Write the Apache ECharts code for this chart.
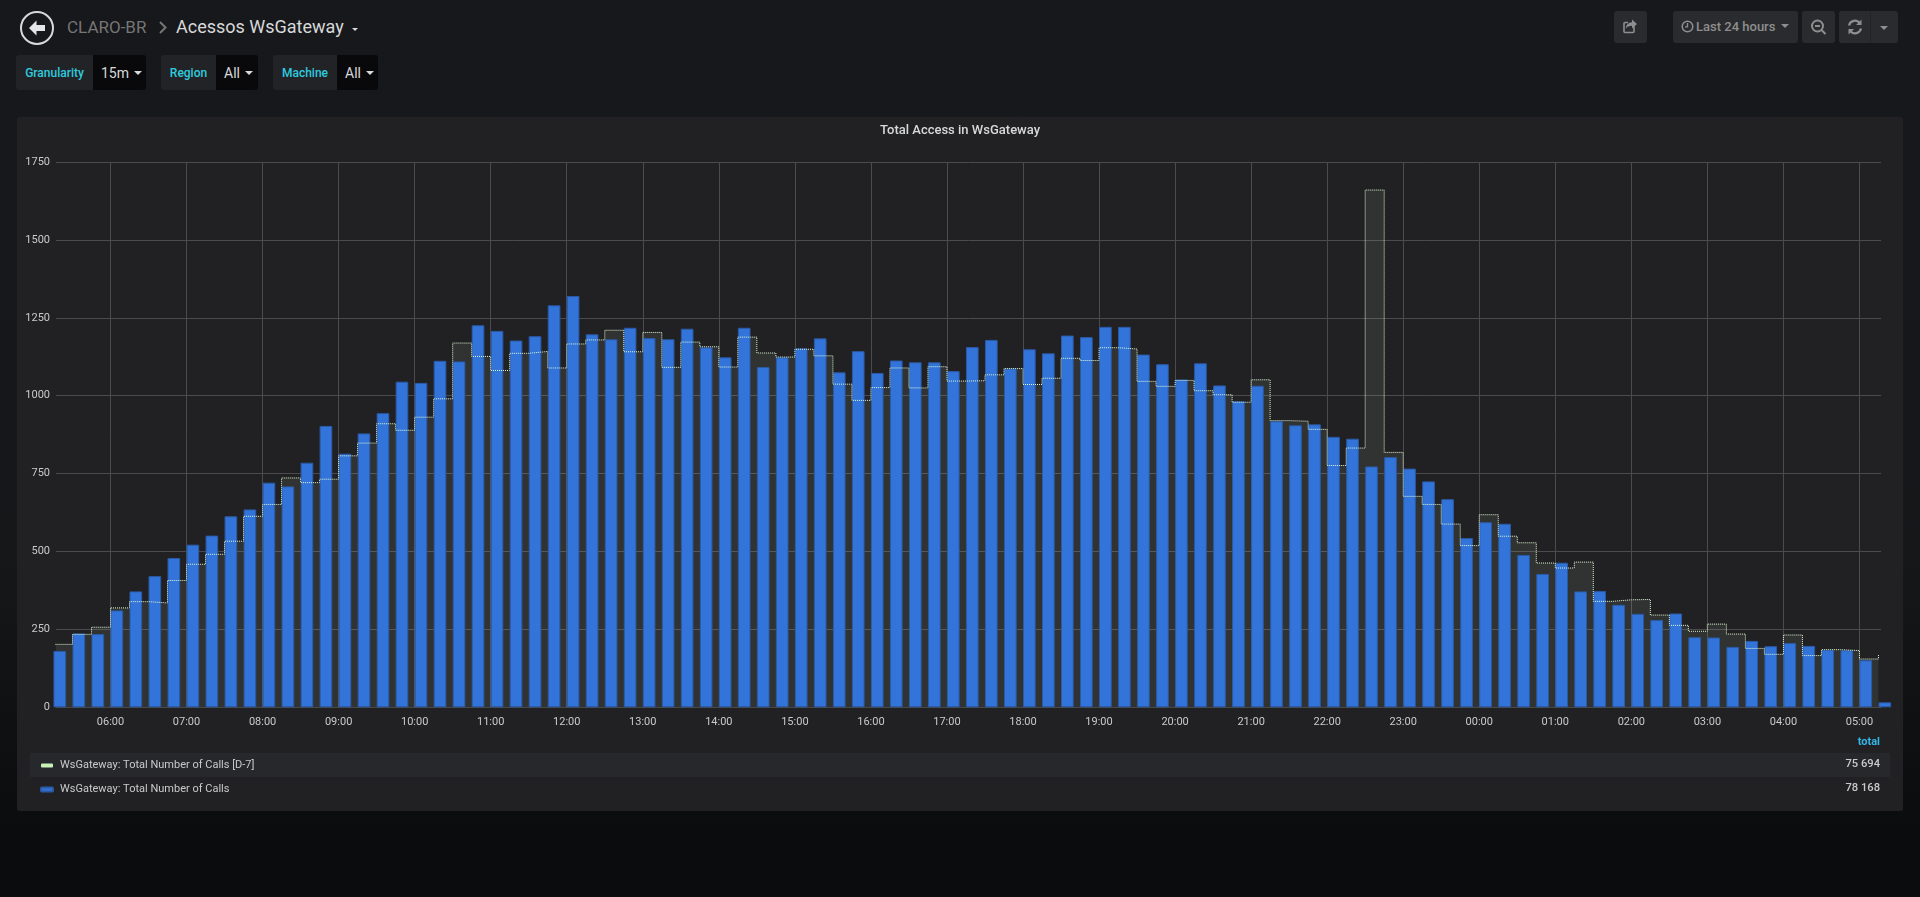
<!DOCTYPE html>
<html><head><meta charset="utf-8"><title>Acessos WsGateway</title>
<style>
html,body{margin:0;padding:0;width:1920px;height:897px;overflow:hidden;background:linear-gradient(#17181b 0,#161719 560px,#0b0c0e 830px);font-family:Roboto,sans-serif;color:#d8d9da}
.a{position:absolute;white-space:nowrap}
.lbl{background:#212327;color:#2fcbdf;font-size:12px;font-weight:500;line-height:36px;text-align:center;top:55px;height:35px;border-radius:3px 0 0 3px}
.val{background:#09090b;color:#d8d9da;font-size:14px;line-height:36px;top:55px;height:35px;border-radius:0 3px 3px 0;padding-left:8px;box-sizing:border-box}
.car{display:inline-block;width:0;height:0;border-left:4px solid transparent;border-right:4px solid transparent;border-top:4px solid #d8d9da;vertical-align:middle;margin-left:5px;margin-top:-2px}
.btn{background:#2a2b2e;top:11px;height:32px;border-radius:3px;color:#8e8e8e}
#panel{left:17px;top:117px;width:1886px;height:694px;background:#212124;border-radius:2px}
#row1{left:30px;top:753px;width:1860px;height:24px;background:#27282b}
#chart{position:absolute;left:0;top:0;width:1920px;height:897px}
</style></head><body>
<svg class="a" style="left:19px;top:10px" width="36" height="36" viewBox="0 0 36 36"><circle cx="18" cy="18" r="16" fill="none" stroke="#d8d9da" stroke-width="2"/><path d="M17.500 10.500 10 18l7.500 7.500v-4.600H26v-5.800h-8.500z" fill="#e4e5e6"/></svg>
<div class="a" style="left:67px;top:14px;font-size:17px;line-height:26px;color:#767676">CLARO-BR</div>
<svg class="a" style="left:158px;top:20px" width="10" height="15" viewBox="0 0 10 15"><path d="M2 2l5.500 5.500L2 13" fill="none" stroke="#767676" stroke-width="2"/></svg>
<div class="a" style="left:176px;top:14px;font-size:18px;line-height:26px;color:#d8d9da">Acessos WsGateway</div>
<div class="a" style="left:352px;top:28px;width:0;height:0;border-left:3.500px solid transparent;border-right:3.500px solid transparent;border-top:3.500px solid #d8d9da"></div>

<div class="a lbl" style="left:16px;width:77px">Granularity</div><div class="a val" style="left:93px;width:53px">15m<span class="car"></span></div>
<div class="a lbl" style="left:161px;width:55px">Region</div><div class="a val" style="left:216px;width:42px">All<span class="car"></span></div>
<div class="a lbl" style="left:273px;width:64px">Machine</div><div class="a val" style="left:337px;width:41px">All<span class="car"></span></div>

<div class="a btn" style="left:1614px;width:33px"><svg width="33" height="32" viewBox="0 0 33 32"><path d="M20 14v6.500a1 1 0 0 1-1 1h-8a1 1 0 0 1-1-1v-8a1 1 0 0 1 1-1h3" fill="none" stroke="#8e8e8e" stroke-width="1.600"/><path d="M18 8.500l5 4.500-5 4.500v-2.700c-3 0-5 .7-6.200 3 .2-4 2.400-6.300 6.200-6.600z" fill="#8e8e8e"/></svg></div>
<div class="a btn" style="left:1673px;width:125px;font-size:13px;font-weight:500;line-height:32px"><svg style="position:absolute;left:8px;top:9px" width="13" height="13" viewBox="0 0 13 13"><circle cx="6.500" cy="6.500" r="5.300" fill="none" stroke="#8e8e8e" stroke-width="1.500"/><path d="M6.500 3v3.800H4" fill="none" stroke="#8e8e8e" stroke-width="1.300"/></svg><span class="a" style="left:23px">Last 24 hours</span><span class="a" style="left:108px;top:13px;width:0;height:0;border-left:4px solid transparent;border-right:4px solid transparent;border-top:4px solid #8e8e8e"></span></div>
<div class="a btn" style="left:1802px;width:33px"><svg width="33" height="32" viewBox="0 0 33 32"><circle cx="15.500" cy="15" r="5.500" fill="none" stroke="#8e8e8e" stroke-width="2"/><path d="M13 15h5M19.500 19l4 4" stroke="#8e8e8e" stroke-width="2" fill="none"/></svg></div>
<div class="a btn" style="left:1839px;width:59px"><svg width="32" height="32" viewBox="0 0 32 32"><path d="M10 14.500a6.200 6.200 0 0 1 10.800-2.500M22 17.500a6.200 6.200 0 0 1-10.800 2.500" fill="none" stroke="#8e8e8e" stroke-width="2.200"/><path d="M22.500 8.500v5.500h-5.500zM9.500 23.500V18H15z" fill="#8e8e8e"/></svg><span class="a" style="left:31px;top:0;width:1px;height:32px;background:#232427"></span><span class="a" style="left:41px;top:15px;width:0;height:0;border-left:4px solid transparent;border-right:4px solid transparent;border-top:4px solid #8e8e8e"></span></div>

<div id="panel" class="a"></div><div id="row1" class="a"></div>
<div id="chart"></div>
<script src="https://cdn.jsdelivr.net/npm/echarts@6/dist/echarts.min.js"></script>
<script>
const chartTitle = 'Total Access in WsGateway';
const seriesNameD7 = 'WsGateway: Total Number of Calls [D-7]';
const seriesNameNow = 'WsGateway: Total Number of Calls';
const totalHeader = 'total';
const totalD7 = '75 694';
const totalNow = '78 168';
const yTicks = {min: 0, max: 1750, step: 250};

// Quarter-hour slots, starting at 05:15 and ending at 05:15 the next day
const firstSlot = [5, 15];
// D-7 series, one value per slot
const callsD7 = [
 202,234,257,319,339,335,407,459,491,533,613,651,736,721,732,807,848,910,889,931,990,1169,1126,1081,
 1136,1142,1089,1166,1179,1210,1141,1203,1091,1172,1157,1092,1188,1137,1124,1149,1128,1037,985,1026,1089,1025,1093,1047,
 1048,1067,1087,1036,1056,1120,1113,1154,1150,1046,1030,1049,1016,1003,979,1051,920,918,892,776,832,1660,818,677,
 651,588,519,618,549,528,463,447,466,340,345,346,296,263,244,267,235,189,170,232,166,185,182,155,169];
// Current series, one value per slot
const callsNow = [
 181,237,235,311,372,421,479,522,551,613,635,721,709,785,903,814,879,944,1045,1041,1112,1110,1226,1208,
 1177,1191,1290,1320,1197,1181,1218,1185,1181,1215,1155,1123,1218,1092,1123,1152,1184,1075,1143,1073,1113,1107,1107,1079,
 1156,1179,1087,1149,1136,1193,1188,1221,1221,1132,1101,1052,1104,1033,982,1032,918,905,908,868,862,773,803,766,
 725,668,543,594,589,489,428,464,372,373,329,300,280,301,225,224,194,213,196,206,197,184,183,151,16];

const start = new Date(2018, 5, 10, firstSlot[0], firstSlot[1]).getTime();
const slotMs = 15 * 60000;
const tsAt = i => start + i * slotMs;
const d7Data = callsD7.map((v, i) => [tsAt(i), v]);
const nowData = callsNow.map((v, i) => [tsAt(i), v]);
const pad = n => String(n).padStart(2, '0');

// The visible window is 05:17 to 05:17. ECharts widens a time axis that carries bars by the
// bars' own width, so the min/max handed to it are pulled in by that amount.
const barPx = 12.67, gridLeft = 56, gridRight = 39, plotPx = 1920 - gridLeft - gridRight;
const windowMs = 24 * 3600000;
const widen = windowMs * (2 * barPx / plotPx) / 2;
const axisMin = start + 2 * 60000 + widen;
const axisMax = start + windowMs + 2 * 60000 - widen;

const chart = echarts.init(document.getElementById('chart'), null, {renderer: 'canvas'});
const txt = '#c9cacb', font = 'Roboto';
chart.setOption({
  backgroundColor: 'transparent',
  animation: false,
  textStyle: {fontFamily: font},
  title: {text: chartTitle, left: 'center', top: 119,
    textStyle: {color: '#d8d9da', fontSize: 13, fontWeight: 500, fontFamily: font}},
  grid: {left: gridLeft, right: gridRight, top: 162, height: 545.3, containLabel: false},
  legend: {orient: 'vertical', left: 40, top: 760, padding: 0, itemWidth: 12, itemHeight: 4, itemGap: 13, icon: 'roundRect', selectedMode: false,
    textStyle: {color: txt, fontSize: 11, fontFamily: font, padding: [0, 0, 0, 2]},
    data: [{name: seriesNameD7, itemStyle: {color: '#c8f2b8'}}, {name: seriesNameNow, itemStyle: {color: '#3274d9'}}]},
  xAxis: {type: 'time', min: axisMin, max: axisMax, minInterval: 3600000, maxInterval: 3600000,
    axisLine: {lineStyle: {color: '#48484a', width: 1}}, axisTick: {show: false},
    axisLabel: {color: txt, fontSize: 11, fontFamily: font, margin: 9, showMinLabel: false, showMaxLabel: false, hideOverlap: false,
      formatter: v => { const d = new Date(v); return d.getMinutes() === 0 ? pad(d.getHours()) + ':00' : ''; }},
    splitLine: {show: true, showMinLine: false, showMaxLine: false, lineStyle: {color: '#4b4b4d', width: 1}}},
  yAxis: {type: 'value', min: yTicks.min, max: yTicks.max, interval: yTicks.step,
    axisLine: {show: false}, axisTick: {show: false},
    axisLabel: {color: txt, fontSize: 11, fontFamily: font, margin: 6, formatter: v => String(v)},
    splitLine: {show: true, lineStyle: {color: '#4b4b4d', width: 1}}},
  graphic: [
    {type: 'text', right: 40, top: 737, z: 10, style: {text: totalHeader, fill: '#33b5e5', font: '700 11px Roboto', textAlign: 'right'}},
    {type: 'text', right: 40, top: 759, z: 10, style: {text: totalD7, fill: txt, font: '500 11.2px Roboto', textAlign: 'right'}},
    {type: 'text', right: 40, top: 783, z: 10, style: {text: totalNow, fill: txt, font: '500 11.2px Roboto', textAlign: 'right'}}
  ],
  series: [
    {name: 'D-7 fill', type: 'line', step: 'end', data: d7Data, z: 1, showSymbol: false, silent: true,
      lineStyle: {width: 0}, itemStyle: {color: '#b7dbab'}, areaStyle: {color: '#b7dbab', opacity: 0.1}},
    {name: 'slot', type: 'bar', data: [], barWidth: barPx, barGap: '0%', z: 2, silent: true},
    {name: seriesNameNow, type: 'bar', data: nowData, barWidth: barPx, barGap: '0%', z: 2,
      itemStyle: {color: '#3274d9', borderColor: '#2c5aa6', borderWidth: 1}},
    {name: seriesNameD7, type: 'line', step: 'end', data: d7Data, z: 3, showSymbol: false,
      itemStyle: {color: '#c8f2b8'}, lineStyle: {color: '#e2fbd8', width: 1, type: 'dotted'}}
  ]
});
</script></body></html>
